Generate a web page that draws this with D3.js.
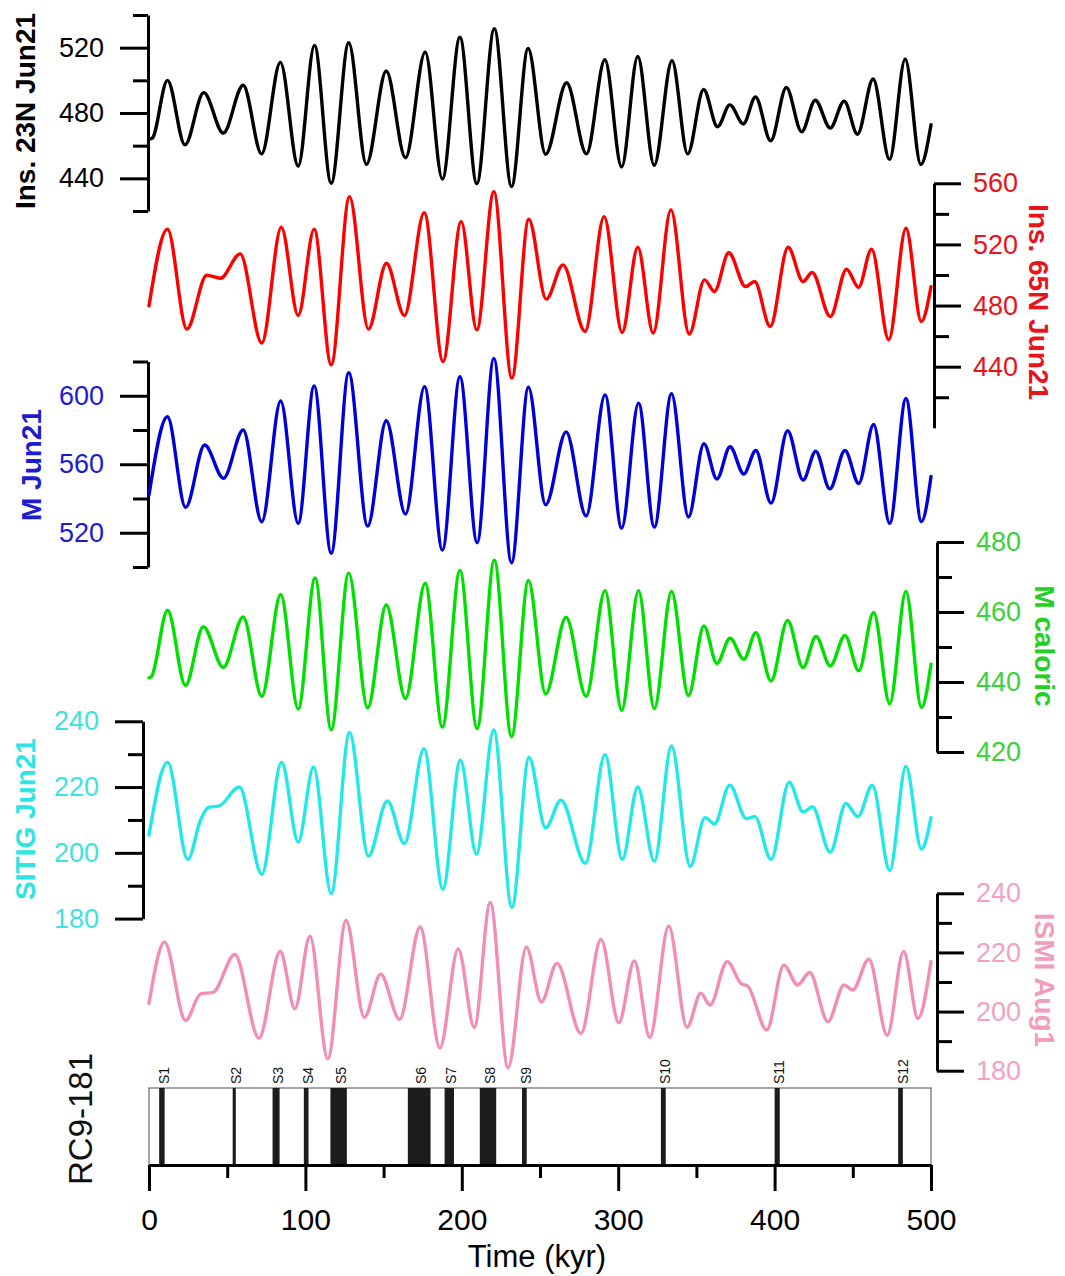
<!DOCTYPE html>
<html><head><meta charset="utf-8">
<script src="https://cdn.jsdelivr.net/npm/d3@7"></script>
<style>body{margin:0;background:#fff} svg text{font-family:"Liberation Sans",Arial,sans-serif}</style>
</head><body><svg id="c" width="1065" height="1276"></svg>
<script>
// ---- data: [time (kyr), value] at the extrema of each curve ----
const ins23N = [[0,464],[2,464.5],[11.8,500],[23,460.5],[35,492.5],[47.5,467.7],[60.2,497],[72,455],[84,511],[95.4,447.5],[105.8,521.4],[116.5,437],[127.7,523],[139,448.6],[151.7,505.7],[164,452.6],[176.6,517.3],[187.6,439.6],[198.8,526.4],[209.6,436.7],[220.8,531.6],[231.8,435],[242.4,519.5],[253.6,454.7],[267,498.5],[279.7,455],[291.5,512.6],[302.2,447],[312.5,514.6],[323,448],[334.4,512],[344.4,455],[354.6,494.4],[363.5,471.6],[371.4,485],[380,473.3],[387.8,489.8],[397.5,463],[407.5,495.6],[417.3,468.5],[426,487.8],[435.6,470.8],[444.5,487.3],[453,467],[463,500.8],[473.5,451.6],[483.5,513],[493.5,448.5],[500,472.8]];
const ins65N = [[0,479.8],[11.8,530],[24.2,464.6],[36.9,499.8],[45.7,497.9],[58.3,513.8],[72.1,455.4],[84.6,531.2],[95.4,473.5],[105.6,530],[116.5,441.2],[128.2,551.3],[140.3,464.6],[151.8,507.7],[163.3,473.5],[176,540.8],[188,443.4],[199.6,534.9],[209.6,464.1],[220.5,554.5],[232,432.5],[242.8,536.5],[254,484.2],[264.7,506.6],[278.8,463],[291,538.2],[302.5,462.4],[312.5,518.2],[322.4,462],[333.7,542.6],[345.4,461.3],[355.2,496.8],[361.5,489.2],[370.7,514.6],[381.4,492.4],[387.2,495.7],[397.2,466.3],[408.6,518.2],[418.2,495.7],[424,501.6],[435.6,472.8],[446,503.8],[453.7,492],[462,516.9],[473,457.6],[484,530.6],[493.8,469.5],[500,492.4]];
const mJun21 = [[0,542],[11.8,587.7],[23.4,534.8],[35.6,571.2],[47.6,551.8],[60.2,580],[72.1,526.4],[84.2,596.9],[95.4,525.5],[105.6,605.7],[116.5,508],[127.7,613.4],[139.8,523.9],[151.7,585.4],[164,530.9],[176.2,605.3],[187.6,509.9],[198.8,611.1],[209.8,514.2],[220.5,621.8],[231.8,502.5],[242.6,605],[253.6,536.3],[266.7,578.9],[279.5,529.8],[291.6,600.5],[302.2,522.7],[313,595.7],[323.1,523.3],[334.1,601.2],[344.9,529.2],[354.8,572],[363.1,551.4],[371.5,570.2],[380.3,554.3],[388,568],[397.7,537.3],[408.3,579.6],[418.2,550.8],[426.3,567.6],[435.3,545.6],[445,568],[453.8,548.8],[463.3,583.2],[473.6,525.5],[484,598.4],[493.9,526.5],[500,552.9]];
const mCaloric = [[0,441.2],[1.5,441.5],[11.9,460.5],[23.3,439],[34.7,455.8],[47.5,444.2],[60.2,458.6],[72.1,435.9],[84.2,465],[95.4,432.3],[106.2,469.7],[116.5,426.4],[127.7,471.1],[139.8,432.6],[151.7,462],[164,435.3],[176.6,468.2],[187.6,427.1],[198.8,471.9],[209.8,426.7],[220.8,474.8],[231.8,424.4],[242.6,469],[253.6,436.6],[266.7,458.5],[279.5,435.9],[291.6,466.1],[302.2,431.9],[313,466.1],[323.1,432.4],[334.1,465.9],[344.9,436.1],[354.8,456],[363.1,445.3],[371.5,452.5],[380.3,446.5],[388,454.1],[397.7,440.3],[408.3,457.6],[418.2,444.1],[426.5,453],[435.6,444.6],[445,453.3],[453.8,443.2],[463.3,459.9],[473.6,433.8],[484,465.9],[493.9,432.7],[500,445.1]];
const sitig = [[0,205.4],[11.9,227.6],[24.8,198],[33,210],[38,213.8],[45,214.3],[57.8,220],[72.1,193.5],[84.8,227.6],[95.4,203.3],[105.2,226.1],[116.5,187.6],[128.2,236.6],[140.3,199],[152.4,215.8],[163.3,202.8],[175.8,231.7],[187.9,189],[199.1,228.2],[209.4,199.6],[220.4,237.4],[232,183.4],[243,229],[253.6,207.6],[263.4,216],[279,196.8],[291.6,229.9],[302.6,198],[312.5,220],[323.1,197.4],[334.1,232.5],[346,195.9],[355.5,210.7],[361.6,208.8],[371.3,220.6],[381.9,210.4],[387.4,211],[397.7,198],[409.3,221.5],[418.2,212.4],[424.1,214],[435.6,200.2],[445.6,215],[453.2,211],[462.5,220.6],[473.6,194.6],[484,226.3],[493.9,201.1],[500,210.7]];
const ismi = [[0,202.7],[9.9,223.5],[23.4,197],[33,206],[41,206.5],[54.9,219.3],[70.3,191],[83.9,220.4],[93.3,200.9],[102.9,225.5],[114.3,184],[126,230.8],[137.7,198],[148.1,212.6],[160.2,197.4],[173.4,228.6],[186,187.7],[197.7,221.2],[208,194.7],[218.2,236.9],[229.6,181],[241.3,221.8],[250.9,203.3],[260.8,216.3],[276.2,192.6],[289,224.4],[300.4,196.2],[310.3,217.1],[320.2,191.3],[332.3,228.9],[344,194.7],[352.8,206.2],[358.7,202.2],[369.7,216.9],[378.5,209.5],[383,208.5],[395,193.8],[405.9,215.7],[414.7,209],[422.4,213.2],[434.1,196.6],[444.4,209],[449.9,207.3],[460.3,217.7],[472,192],[482.5,220.3],[491.7,197.7],[500,216.9]];

// RC9-181 sapropel events
const eventNames = ["S1","S2","S3","S4","S5","S6","S7","S8","S9","S10","S11","S12"];
const eventStart = [6.5,53.5,79,99,116,165.5,189,211.5,238.5,327.3,400,479];
const eventEnd   = [10,55.5,83.5,102,126.5,180,195,222,241.5,330.4,403.3,482];

// tick values
const timeMajor = [0,100,200,300,400,500];
const timeMinor = [50,150,250,350,450];
const ins23Major = [440,480,520], ins23Minor = [420,460,500,540];
const ins65Major = [440,480,520,560], ins65Minor = [420,460,500,540];
const mJunMajor = [520,560,600], mJunMinor = [500,540,580,620];
const mCalMajor = [420,440,460,480], mCalMinor = [430,450,470];
const sitigMajor = [180,200,220,240], sitigMinor = [190,210,230];
const ismiMajor = [180,200,220,240], ismiMinor = [190,210,230];

// ---- drawing ----
const FONT = '"Liberation Sans",Arial,sans-serif';
const svg = d3.select('#c');
const x = d3.scaleLinear().domain([0,500]).range([149,931]);

const panels = [
  {data:ins23N, side:'left', ax:148, domain:[420,540], range:[211,15], major:ins23Major, minor:ins23Minor,
   color:'#000000', tick:'#000000', title:'Ins. 23N Jun21', tcol:'#000000', tx:25, ty:111},
  {data:ins65N, side:'right', ax:934, domain:[400,560], range:[427.8,183.3], major:ins65Major, minor:ins65Minor,
   color:'#ff0000', tick:'#e8141c', title:'Ins. 65N Jun21', tcol:'#e8141c', tx:1038, ty:302},
  {data:mJun21, side:'left', ax:148, domain:[500,620], range:[567,361.5], major:mJunMajor, minor:mJunMinor,
   color:'#0000d8', tick:'#1c1cd0', title:'M Jun21', tcol:'#1c1cd0', tx:31, ty:465},
  {data:mCaloric, side:'right', ax:937, domain:[420,480], range:[752,542], major:mCalMajor, minor:mCalMinor,
   color:'#00e000', tick:'#3ad23a', title:'M caloric', tcol:'#22d022', tx:1044, ty:646},
  {data:sitig, side:'left', ax:143, domain:[180,240], range:[918.6,721.3], major:sitigMajor, minor:sitigMinor,
   color:'#22e8e8', tick:'#3ee2e2', title:'SITIG Jun21', tcol:'#2ee4e4', tx:25, ty:819},
  {data:ismi, side:'right', ax:937, domain:[180,240], range:[1070.7,893.3], major:ismiMajor, minor:ismiMinor,
   color:'#f28db4', tick:'#f2a2c2', title:'ISMI Aug1', tcol:'#f29cbe', tx:1044, ty:980}
];

panels.forEach(p => {
  const y = d3.scaleLinear().domain(p.domain).range(p.range);
  const mk = p.side === 'left' ? d3.axisLeft : d3.axisRight;
  const a1 = svg.append('g').attr('transform', `translate(${p.ax},0)`)
    .call(mk(y).tickValues(p.minor).tickSize(15).tickSizeOuter(0).tickFormat(''));
  a1.selectAll('path,line').attr('stroke','#000').attr('stroke-width',3);
  const a2 = svg.append('g').attr('transform', `translate(${p.ax},0)`)
    .call(mk(y).tickValues(p.major).tickSize(p.side==='left'?28:27).tickSizeOuter(0)
      .tickPadding(p.side==='left'?16:12).tickFormat(d3.format('d')));
  a2.select('.domain').remove();
  a2.selectAll('line').attr('stroke','#000').attr('stroke-width',3);
  a2.attr('font-family', FONT).attr('font-size', 27);
  a2.selectAll('text').attr('fill', p.tick);

  svg.append('path').datum(p.data)
    .attr('fill','none').attr('stroke',p.color).attr('stroke-width',3.4)
    .attr('stroke-linejoin','round').attr('stroke-linecap','round')
    .attr('d', d3.line().x(d => x(d[0])).y(d => y(d[1])).curve(d3.curveMonotoneX));

  svg.append('text').text(p.title)
    .attr('transform', `translate(${p.tx},${p.ty}) rotate(${p.side==='left'?-90:90})`)
    .attr('text-anchor','middle').attr('dominant-baseline','central')
    .attr('font-weight','bold').attr('font-size',28).attr('fill',p.tcol);
});

// ---- RC9-181 strip ----
const boxTop = 1088, boxBot = 1165;
svg.append('rect').attr('x', x(0)).attr('y', boxTop).attr('width', x(500)-x(0)).attr('height', boxBot-boxTop)
  .attr('fill','#fff').attr('stroke','#888').attr('stroke-width',1.5);
svg.selectAll('rect.ev').data(eventNames).enter().append('rect').attr('class','ev')
  .attr('x', (d,i) => x(eventStart[i])).attr('y', boxTop)
  .attr('width', (d,i) => x(eventEnd[i]) - x(eventStart[i])).attr('height', boxBot-boxTop)
  .attr('fill','#1c1c1c');
svg.selectAll('text.ev').data(eventNames).enter().append('text').attr('class','ev')
  .text(d => d)
  .attr('transform', (d,i) => `translate(${x((eventStart[i]+eventEnd[i])/2)+2},${boxTop-4}) rotate(-90)`)
  .attr('text-anchor','start').attr('dominant-baseline','central')
  .attr('font-size',14).attr('fill','#111');

const xa1 = svg.append('g').attr('transform', `translate(0,${boxBot})`)
  .call(d3.axisBottom(x).tickValues(timeMinor).tickSize(13).tickSizeOuter(0).tickFormat(''));
xa1.selectAll('path,line').attr('stroke','#000').attr('stroke-width',3);
const xa2 = svg.append('g').attr('transform', `translate(0,${boxBot})`)
  .call(d3.axisBottom(x).tickValues(timeMajor).tickSize(26).tickSizeOuter(0).tickPadding(18).tickFormat(d3.format('d')));
xa2.select('.domain').remove();
xa2.selectAll('line').attr('stroke','#000').attr('stroke-width',3);
xa2.attr('font-family', FONT).attr('font-size', 30);
xa2.selectAll('text').attr('fill','#000');

svg.append('text').text('Time (kyr)').attr('x', 537).attr('y', 1267)
  .attr('text-anchor','middle').attr('font-size',31).attr('fill','#000');
svg.append('text').text('RC9-181')
  .attr('transform','translate(80,1119) rotate(-90)')
  .attr('text-anchor','middle').attr('dominant-baseline','central')
  .attr('font-size',33).attr('fill','#111');
</script></body></html>
